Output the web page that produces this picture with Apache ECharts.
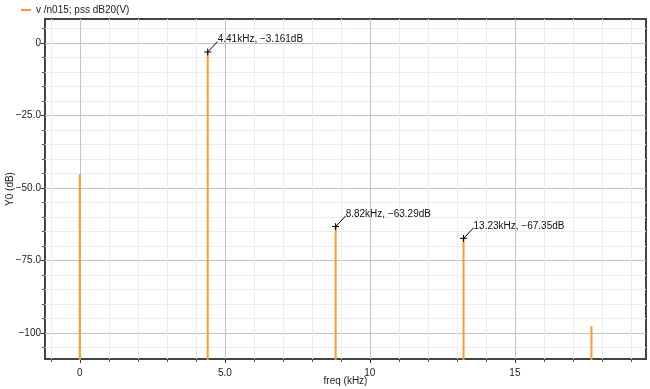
<!DOCTYPE html>
<html>
<head>
<meta charset="utf-8">
<script src="https://cdn.jsdelivr.net/npm/echarts@6/dist/echarts.min.js"></script>
<style>
  html, body { margin: 0; padding: 0; background: #fff; }
  #chart { width: 650px; height: 389px; }
</style>
</head>
<body>
<div id="chart"></div>
<script>
// spectrum lines (kHz, dB)
var freqs  = [0, 4.41, 8.82, 13.23, 17.64];
var levels = [-45.3, -3.161, -63.29, -67.35, -97.6];
var floorLevel = -300;   // lines drop off below the plot

// marked harmonics
var markFreqs  = [4.41, 8.82, 13.23];
var markLevels = [-3.161, -63.29, -67.35];
var markLabels = ['4.41kHz, \u22123.161dB', '8.82kHz, \u221263.29dB', '13.23kHz, \u221267.35dB'];

// axes
var xMajorTicks  = [0, 5, 10, 15];
var xTickLabels  = ['0', '5.0', '10', '15'];
var xMinorTicks  = [-1, 1, 2, 3, 4, 6, 7, 8, 9, 11, 12, 13, 14, 16, 17, 18, 19];
var yMajorTicks  = [0, -25, -50, -75, -100];
var yTickLabels  = ['0', '\u221225.0', '\u221250.0', '\u221275.0', '\u2212100'];
var yMinorTicks  = [5, -5, -10, -15, -20, -30, -35, -40, -45, -55, -60, -65, -70, -80, -85, -90, -95, -105];

var seriesName = 'v /n015; pss dB20(V)';
var FONT = 'Liberation Sans, Arial, sans-serif';

var myChart = echarts.init(document.getElementById('chart'));

var lineData = [];
for (var i = 0; i < freqs.length; i++) {
    lineData.push([freqs[i], floorLevel]);
    lineData.push([freqs[i], levels[i]]);
    lineData.push([freqs[i], floorLevel]);
}
var markData = markFreqs.map(function (f, i) { return [f, markLevels[i]]; });

var xMin = -1.2, xMax = 19.52, yMin = -108.9, yMax = 8.2;

option = {
    animation: false,
    textStyle: { fontFamily: FONT },
    grid: {
        left: 45, right: 4, top: 19, bottom: 30,
        outerBoundsMode: 'none', containLabel: false,
        show: true, borderColor: '#444', borderWidth: 2, backgroundColor: '#fff'
    },
    legend: {
        left: 16, top: 0,
        itemWidth: 10, itemHeight: 2, itemGap: 10,
        data: [{ name: seriesName, icon: 'rect' }],
        textStyle: { fontSize: 10, color: '#222', fontFamily: FONT }
    },
    xAxis: [
        {   // minor grid
            type: 'value', min: xMin, max: xMax, position: 'bottom',
            axisLine: { show: false, onZero: false },
            axisLabel: { show: false },
            axisTick: { show: true, customValues: xMinorTicks, length: 3, lineStyle: { color: '#555' } },
            splitLine: { show: true, lineStyle: { color: '#ececec', width: 1 } }
        },
        {   // major
            type: 'value', min: xMin, max: xMax, position: 'bottom',
            name: 'freq (kHz)', nameLocation: 'middle', nameGap: 17, nameMoveOverlap: false,
            nameTextStyle: { fontSize: 10, color: '#222', fontFamily: FONT },
            axisLine: { show: false, onZero: false },
            axisTick: { show: true, customValues: xMajorTicks, length: 4, lineStyle: { color: '#333' } },
            axisLabel: {
                customValues: xMajorTicks, fontSize: 10, color: '#222', margin: 9,
                formatter: function (v) { return xTickLabels[xMajorTicks.indexOf(v)]; }
            },
            splitLine: { show: true, lineStyle: { color: '#c4c4c4', width: 1 } }
        }
    ],
    yAxis: [
        {
            type: 'value', min: yMin, max: yMax, position: 'left',
            axisLine: { show: false, onZero: false },
            axisLabel: { show: false },
            axisTick: { show: true, customValues: yMinorTicks, length: 3, lineStyle: { color: '#555' } },
            splitLine: { show: true, lineStyle: { color: '#ececec', width: 1 } }
        },
        {
            type: 'value', min: yMin, max: yMax, position: 'left',
            name: 'Y0 (dB)', nameLocation: 'middle', nameGap: 30, nameMoveOverlap: false,
            nameTextStyle: { fontSize: 10, color: '#222', fontFamily: FONT },
            axisLine: { show: false, onZero: false },
            axisTick: { show: true, customValues: yMajorTicks, length: 4, lineStyle: { color: '#333' } },
            axisLabel: {
                customValues: yMajorTicks, fontSize: 10, color: '#222', margin: 4,
                formatter: function (v) { return yTickLabels[yMajorTicks.indexOf(v)]; }
            },
            splitLine: { show: true, lineStyle: { color: '#c4c4c4', width: 1 } }
        }
    ],
    series: [
        {
            name: seriesName,
            type: 'line',
            xAxisIndex: 1, yAxisIndex: 1,
            data: lineData,
            symbol: 'none',
            clip: true,
            color: '#ff9a2e',
            lineStyle: { color: '#ff9a2e', width: 2 }
        },
        {
            name: 'markers',
            type: 'custom',
            xAxisIndex: 1, yAxisIndex: 1,
            data: markData,
            z: 5,
            renderItem: function (params, api) {
                var p = api.coord([api.value(0), api.value(1)]);
                var s = 3.5;
                var st = { stroke: '#000', lineWidth: 1 };
                return {
                    type: 'group',
                    children: [
                        { type: 'line', shape: { x1: p[0] - s, y1: p[1], x2: p[0] + s, y2: p[1] }, style: st },
                        { type: 'line', shape: { x1: p[0], y1: p[1] - s, x2: p[0], y2: p[1] + s }, style: st },
                        { type: 'line', shape: { x1: p[0], y1: p[1], x2: p[0] + 10, y2: p[1] - 10.5 }, style: st },
                        {
                            type: 'text', x: p[0] + 10, y: p[1] - 12.5,
                            style: {
                                text: markLabels[params.dataIndex],
                                fill: '#111', font: '10px ' + FONT,
                                align: 'left', verticalAlign: 'middle'
                            }
                        }
                    ]
                };
            }
        }
    ]
};

myChart.setOption(option);
window.addEventListener('resize', function () { myChart.resize(); });
</script>
</body>
</html>
